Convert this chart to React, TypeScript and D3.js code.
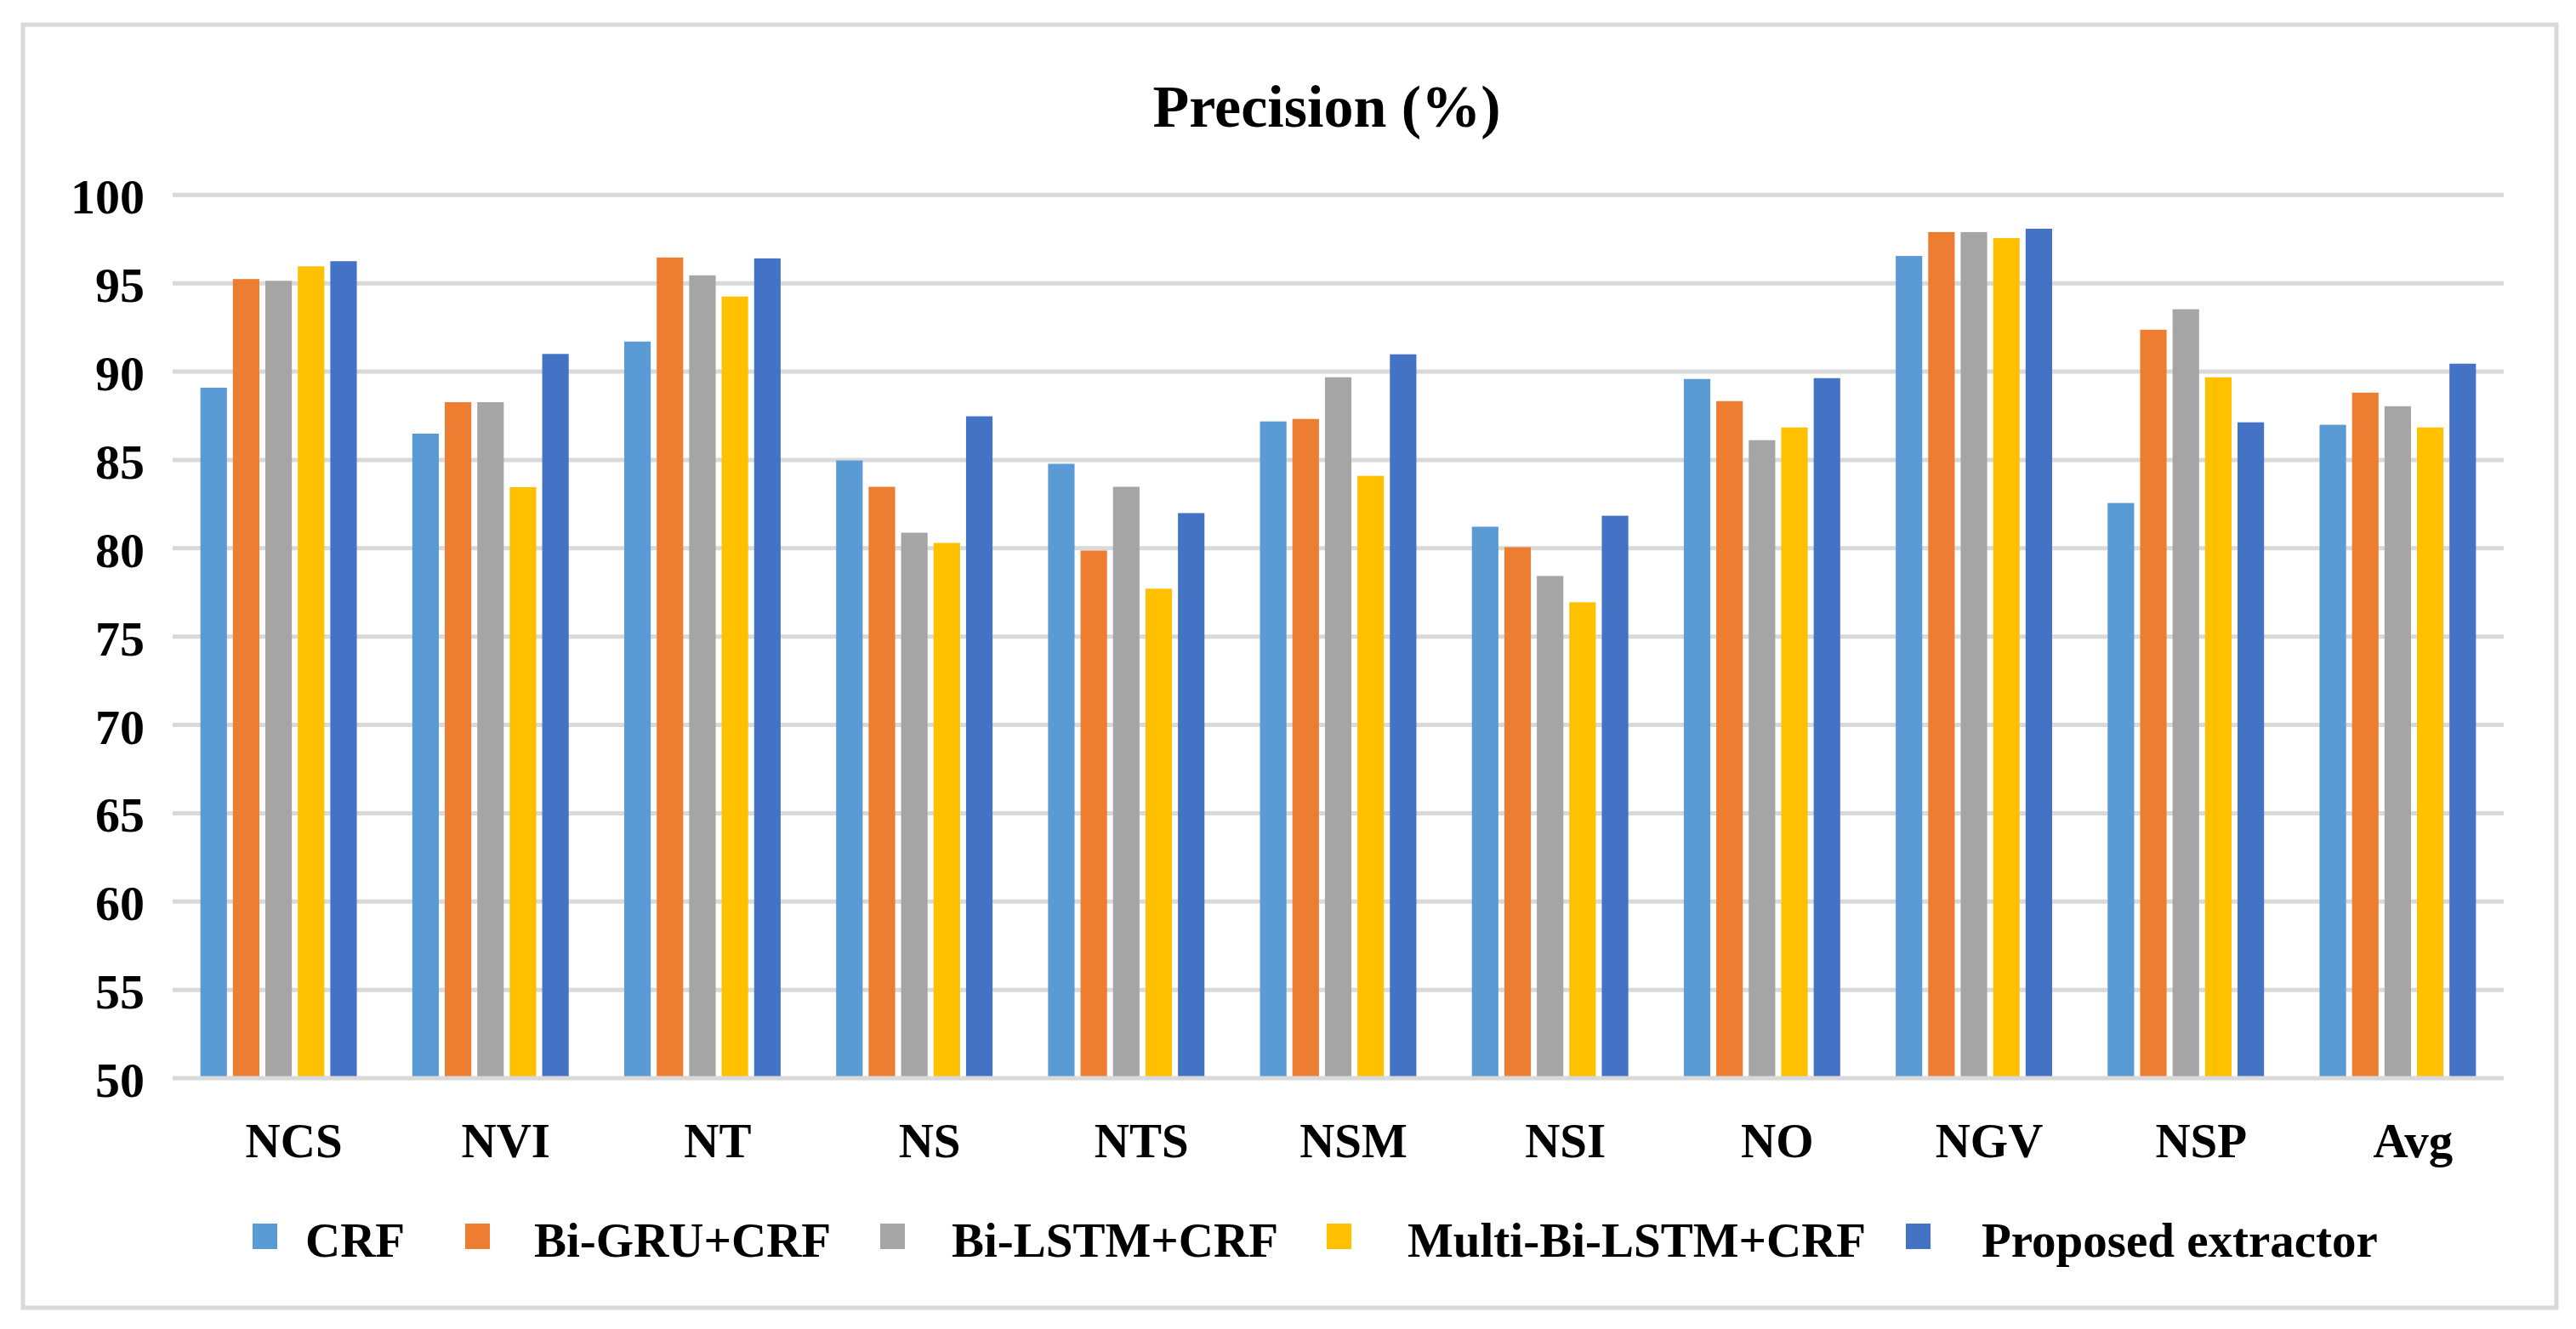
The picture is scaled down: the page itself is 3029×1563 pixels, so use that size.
import React from "react";
import * as d3 from "d3";

const categories = ["NCS", "NVI", "NT", "NS", "NTS", "NSM", "NSI", "NO", "NGV", "NSP", "Avg"];
const seriesNames = ["CRF", "Bi-GRU+CRF", "Bi-LSTM+CRF", "Multi-Bi-LSTM+CRF", "Proposed extractor"];
const crf = [89.09, 86.49, 91.7, 84.97, 84.78, 87.18, 81.22, 89.58, 96.55, 82.56, 86.99];
const biGru = [95.24, 88.27, 96.46, 83.48, 79.87, 87.32, 80.06, 88.33, 97.9, 92.37, 88.81];
const biLstm = [95.14, 88.27, 95.45, 80.88, 83.48, 89.68, 78.43, 86.12, 97.9, 93.53, 88.04];
const multiBiLstm = [95.96, 83.46, 94.25, 80.3, 77.71, 84.1, 76.94, 86.84, 97.56, 89.68, 86.84];
const proposed = [96.25, 91.0, 96.41, 87.47, 81.99, 90.98, 81.84, 89.63, 98.09, 87.13, 90.45];
const yTicks = [50, 55, 60, 65, 70, 75, 80, 85, 90, 95, 100];
const colors = ["#5B9BD5", "#ED7D31", "#A5A5A5", "#FFC000", "#4472C4"];
const title = "Precision (%)";

const seriesValues = [crf, biGru, biLstm, multiBiLstm, proposed];

// layout
const W = 3029;
const H = 1563;
const plotLeft = 203;
const plotRight = 2944;
const plotTop = 229.3;
const plotBottom = 1268;
const legendX = [297, 547, 1035, 1560, 2241];
const legendTextGap = [62, 81, 84, 95, 89];
const FONT = "'Liberation Serif', 'Times New Roman', serif";

export default function App() {
  const y = d3.scaleLinear().domain([50, 100]).range([plotBottom, plotTop]);
  const x0 = d3.scaleBand<string>().domain(categories).range([plotLeft, plotRight]).paddingInner(0.262).paddingOuter(0.131);
  const x1 = d3.scaleBand<string>().domain(seriesNames).range([0, x0.bandwidth()]).paddingInner(0.184);

  return (
    <svg
      width={W}
      height={H}
      style={{ position: "absolute", left: 0, top: 0, background: "#fff" }}
      fontFamily={FONT}
      fontWeight="bold"
    >
      <rect x={0} y={0} width={W} height={H} fill="#fff" />
      <rect x={27} y={29} width={3006 - 27} height={1538 - 29} fill="#fff" stroke="#d9d9d9" strokeWidth={5} />
      <text x={1560} y={149} fontSize={70} textAnchor="middle" fill="#000">{title}</text>

      {yTicks.filter((t) => t !== 50).map((t) => (
        <line key={"g" + t} x1={plotLeft} x2={plotRight} y1={y(t)} y2={y(t)} stroke="#d9d9d9" strokeWidth={5} />
      ))}

      {categories.map((c, ci) => (
        <g key={c} transform={`translate(${x0(c)},0)`}>
          {seriesNames.map((s, si) => (
            <rect
              key={s}
              x={x1(s)}
              y={y(seriesValues[si][ci])}
              width={x1.bandwidth()}
              height={y(50) - y(seriesValues[si][ci])}
              fill={colors[si]}
            />
          ))}
        </g>
      ))}

      <line x1={plotLeft} x2={plotRight} y1={y(50)} y2={y(50)} stroke="#d9d9d9" strokeWidth={5} />

      {yTicks.map((t) => (
        <text key={"t" + t} x={170} y={y(t) + 22} fontSize={58} textAnchor="end" fill="#000">{t}</text>
      ))}

      {categories.map((c) => (
        <text key={"c" + c} x={(x0(c) as number) + x0.bandwidth() / 2 + 18} y={1361} fontSize={57} textAnchor="middle" fill="#000">{c}</text>
      ))}

      {seriesNames.map((s, i) => (
        <g key={"l" + s}>
          <rect x={legendX[i]} y={1439} width={29} height={30} fill={colors[i]} />
          <text x={legendX[i] + legendTextGap[i]} y={1478} fontSize={57} fill="#000">{s}</text>
        </g>
      ))}
    </svg>
  );
}
